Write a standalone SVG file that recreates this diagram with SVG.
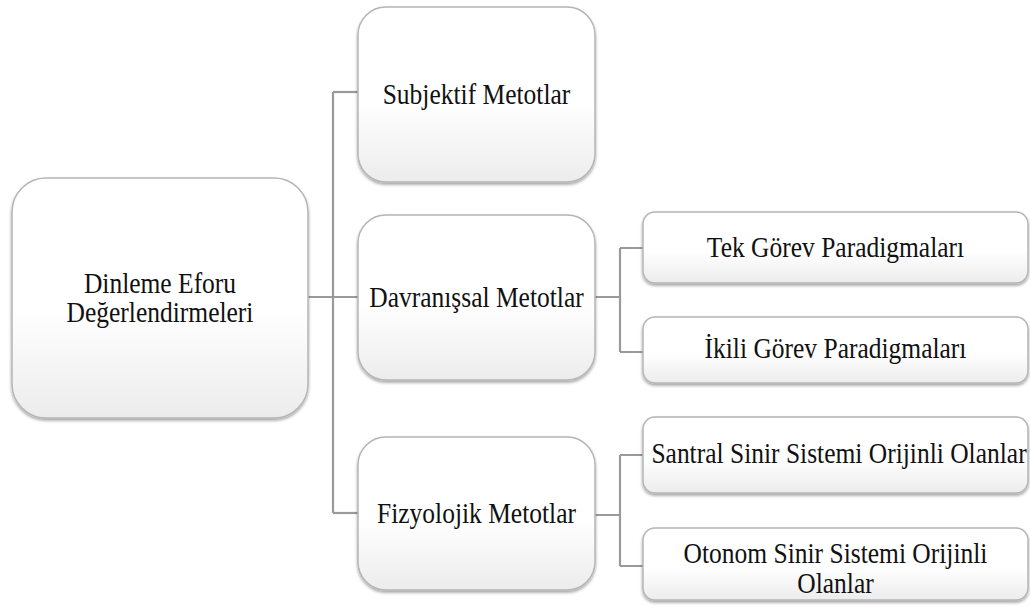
<svg xmlns="http://www.w3.org/2000/svg" width="1030" height="610" viewBox="0 0 1030 610">
<defs>
<linearGradient id="g" x1="0" y1="0" x2="0" y2="1">
<stop offset="0" stop-color="#ffffff"/>
<stop offset="0.55" stop-color="#ffffff"/>
<stop offset="1" stop-color="#ececec"/>
</linearGradient>
<filter id="sh" x="-10%" y="-10%" width="120%" height="125%">
<feDropShadow dx="0" dy="2" stdDeviation="1.8" flood-color="#000" flood-opacity="0.35"/>
</filter>
<style>
.box{fill:url(#g);stroke:#b5b5b5;stroke-width:1.5;filter:url(#sh)}
.t{font-family:'Liberation Serif','Times New Roman',serif;font-size:25.5px;fill:#111;text-anchor:middle}
.c{fill:none;stroke:#9a9a9a;stroke-width:2.2}
</style>
</defs>
<rect width="1030" height="610" fill="#ffffff"/>
<g id="connectors">
<path class="c" d="M308,297 H358"/>
<path class="c" d="M333,92 V513"/>
<path class="c" d="M333,92 H358"/>
<path class="c" d="M333,513 H358"/>
<path class="c" d="M595,297 H620 M620,248 V352 M620,248 H643 M620,352 H643"/>
<path class="c" d="M595,515 H620 M620,455 V566 M620,455 H643 M620,566 H643"/>
</g>
<g id="root">
<rect class="box" x="12" y="178" width="296" height="240" rx="34"/>
<text class="t" font-family="Liberation Serif, serif" transform="translate(160,293) scale(1,1.12)">Dinleme Eforu</text>
<text class="t" font-family="Liberation Serif, serif" transform="translate(160,322) scale(1,1.12)">Değerlendirmeleri</text>
</g>
<g id="subjektif">
<rect class="box" x="358" y="7" width="237" height="175" rx="28"/>
<text class="t" font-family="Liberation Serif, serif" transform="translate(476.5,104) scale(1,1.12)">Subjektif Metotlar</text>
</g>
<g id="davranissal">
<rect class="box" x="358" y="215" width="237" height="165" rx="28"/>
<text class="t" font-family="Liberation Serif, serif" transform="translate(476.5,307) scale(1,1.12)">Davranışsal Metotlar</text>
</g>
<g id="fizyolojik">
<rect class="box" x="358" y="437" width="237" height="153" rx="28"/>
<text class="t" font-family="Liberation Serif, serif" transform="translate(476.5,523) scale(1,1.12)">Fizyolojik Metotlar</text>
</g>
<g id="tek">
<rect class="box" x="643" y="212" width="385" height="71" rx="12"/>
<text class="t" font-family="Liberation Serif, serif" transform="translate(835.5,257) scale(1,1.12)">Tek Görev Paradigmaları</text>
</g>
<g id="ikili">
<rect class="box" x="643" y="317" width="385" height="66" rx="12"/>
<text class="t" font-family="Liberation Serif, serif" transform="translate(835.5,358) scale(1,1.12)">İkili Görev Paradigmaları</text>
</g>
<g id="santral">
<rect class="box" x="643" y="417" width="385" height="76" rx="12"/>
<text class="t" font-family="Liberation Serif, serif" transform="translate(839,463) scale(1,1.12)">Santral Sinir Sistemi Orijinli Olanlar</text>
</g>
<g id="otonom">
<rect class="box" x="643" y="528" width="385" height="72" rx="12"/>
<text class="t" font-family="Liberation Serif, serif" transform="translate(835.5,563) scale(1,1.12)">Otonom Sinir Sistemi Orijinli</text>
<text class="t" font-family="Liberation Serif, serif" transform="translate(835.5,593) scale(1,1.12)">Olanlar</text>
</g>
</svg>
